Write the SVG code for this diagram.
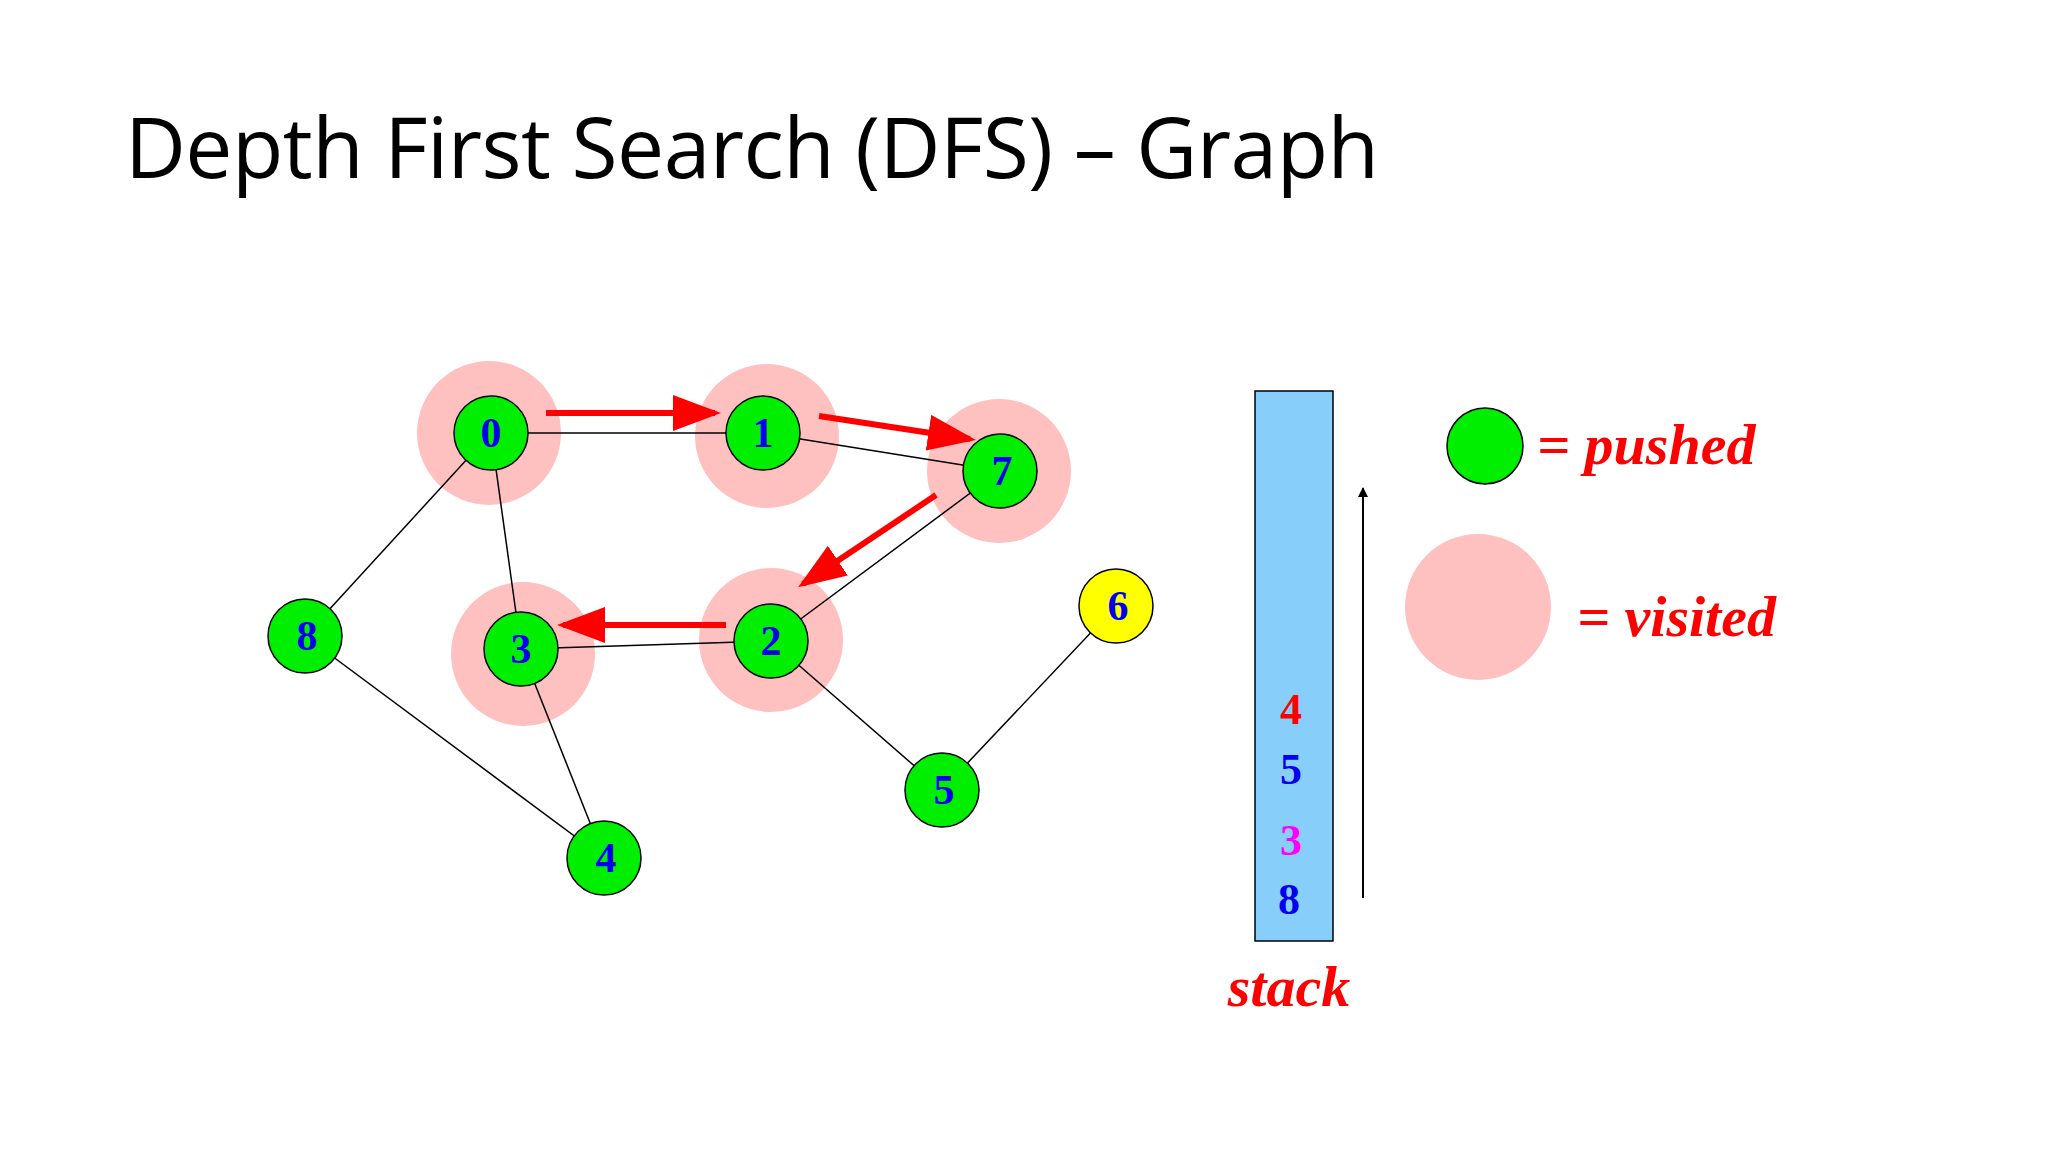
<svg xmlns="http://www.w3.org/2000/svg" width="2048" height="1152" viewBox="0 0 2048 1152">
<style>
.halo{fill:#ffc0c0}
.node{fill:#00ee00;stroke:#000;stroke-width:1.5}
.lbl{font-family:"Liberation Serif",serif;font-weight:bold;font-size:42px;fill:#0000ee;text-anchor:middle}
.edge{stroke:#000;stroke-width:1.5;fill:none}
.red{stroke:#ff0000;stroke-width:6;fill:none;marker-end:url(#ah)}
.leg{font-family:"Liberation Serif",serif;font-weight:bold;font-style:italic;font-size:58px;fill:#ff0000}
.st{font-family:"Liberation Serif",serif;font-weight:bold;font-size:44px;text-anchor:middle}
</style>
<defs>
<marker id="ah" markerWidth="8" markerHeight="6" refX="7" refY="3" orient="auto" markerUnits="strokeWidth"><path d="M0,0 L8,3 L0,6 Z" fill="#ff0000"/></marker>
<marker id="bk" markerWidth="10" markerHeight="16" refX="9" refY="8" orient="auto" markerUnits="userSpaceOnUse"><path d="M0,3 L10,8 L0,13 Z" fill="#000"/></marker>
</defs>
<rect width="2048" height="1152" fill="#fff"/>
<text x="125" y="178" font-family="Open Sans, sans-serif" font-size="84" fill="#000" textLength="1254">Depth First Search (DFS)  –  Graph</text>
<g id="halos">
<circle class="halo" cx="489" cy="433" r="72"/>
<circle class="halo" cx="767" cy="436" r="72"/>
<circle class="halo" cx="999" cy="471" r="72"/>
<circle class="halo" cx="771" cy="640" r="72"/>
<circle class="halo" cx="523" cy="654" r="72"/>
</g>
<g id="connectors">
<line class="edge" x1="491" y1="433" x2="763" y2="433"/>
<line class="edge" x1="763" y1="433" x2="1000" y2="471"/>
<line class="edge" x1="1000" y1="471" x2="771" y2="641"/>
<line class="edge" x1="491" y1="433" x2="305" y2="636"/>
<line class="edge" x1="491" y1="433" x2="521" y2="649"/>
<line class="edge" x1="771" y1="641" x2="521" y2="649"/>
<line class="edge" x1="521" y1="649" x2="604" y2="858"/>
<line class="edge" x1="305" y1="636" x2="604" y2="858"/>
<line class="edge" x1="771" y1="641" x2="942" y2="790"/>
<line class="edge" x1="942" y1="790" x2="1116" y2="606"/>
<line class="red" x1="546" y1="413" x2="715" y2="413"/>
<line class="red" x1="819" y1="416" x2="970" y2="439"/>
<line class="red" x1="936" y1="495" x2="803" y2="584"/>
<line class="red" x1="726" y1="625" x2="563" y2="625"/>
<line x1="1363" y1="898" x2="1363" y2="488" stroke="#000" stroke-width="2" marker-end="url(#bk)"/>
</g>
<g id="n0"><circle class="node" cx="491" cy="433" r="37"/><text class="lbl" x="491" y="447">0</text></g>
<g id="n1"><circle class="node" cx="763" cy="433" r="37"/><text class="lbl" x="763" y="447">1</text></g>
<g id="n7"><circle class="node" cx="1000" cy="471" r="37"/><text class="lbl" x="1002" y="485">7</text></g>
<g id="n2"><circle class="node" cx="771" cy="641" r="37"/><text class="lbl" x="771" y="655">2</text></g>
<g id="n3"><circle class="node" cx="521" cy="649" r="37"/><text class="lbl" x="521" y="663">3</text></g>
<g id="n8"><circle class="node" cx="305" cy="636" r="37"/><text class="lbl" x="307" y="650">8</text></g>
<g id="n4"><circle class="node" cx="604" cy="858" r="37"/><text class="lbl" x="606" y="872">4</text></g>
<g id="n5"><circle class="node" cx="942" cy="790" r="37"/><text class="lbl" x="944" y="804">5</text></g>
<g id="n6"><circle cx="1116" cy="606" r="37" fill="#ffff00" stroke="#000" stroke-width="1.5"/><text class="lbl" x="1118" y="620">6</text></g>
<g id="stack">
<rect x="1255" y="391" width="78" height="550" fill="#87cefa" stroke="#000" stroke-width="1.5"/>
<text class="st" x="1291" y="724" fill="#ff0000">4</text>
<text class="st" x="1291" y="784" fill="#0000ee">5</text>
<text class="st" x="1291" y="855" fill="#ff00ff">3</text>
<text class="st" x="1289" y="914" fill="#0000ee">8</text>
<text class="leg" x="1289" y="1006" text-anchor="middle" font-size="50">stack</text>
</g>
<g id="legend">
<circle class="node" cx="1485" cy="446" r="38"/>
<text class="leg" x="1537" y="464">= pushed</text>
<circle class="halo" cx="1478" cy="607" r="73"/>
<text class="leg" x="1577" y="636">= visited</text>
</g>
</svg>
